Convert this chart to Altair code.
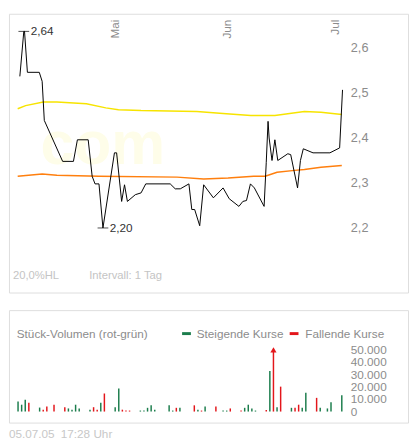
import altair as alt
import pandas as pd

FONT = "Liberation Sans"
BASE = pd.Timestamp("2005-05-01")

# ---- price line (days after 2005-05-01, price in EUR) ----
price_days = [-25.5, -24.4, -24.2, -23.4, -20.1, -19.3, -18.7, -13.6, -10.6, -9.5, -6.5, -5.4, -4.6, -3.5, -2.4,
              0.8, 1.4, 2.8, 3.6, 4.4, 6.6, 8.2, 9.5, 16.3, 17.7, 19.1, 21.5, 22.3, 23.1, 24.5, 25.6,
              28.3, 31.0, 32.7, 35.4, 36.5, 37.5, 38.6, 39.7, 42.4, 43.0, 43.5, 43.8, 44.6, 45.4, 46.2,
              49.0, 49.8, 51.7, 52.5, 53.3, 56.0, 60.7, 63.4, 64.2]
price_vals = [2.537, 2.637, 2.637, 2.546, 2.546, 2.526, 2.439, 2.348, 2.348, 2.396, 2.396, 2.315, 2.298, 2.298, 2.200,
              2.367, 2.367, 2.259, 2.296, 2.259, 2.274, 2.278, 2.298, 2.298, 2.287, 2.287, 2.298, 2.241, 2.241, 2.205, 2.296,
              2.267, 2.289, 2.265, 2.248, 2.259, 2.261, 2.298, 2.289, 2.248, 2.346, 2.437, 2.400, 2.350, 2.396, 2.350,
              2.365, 2.363, 2.289, 2.350, 2.376, 2.367, 2.367, 2.378, 2.507]

# ---- moving averages ----
ma_hi_days = [-26.1, -23.9, -19.0, -15.2, -7.0, -1.6, 1.9, 8.2, 23.7, 31.9, 38.7, 45.4, 53.6, 58.2, 64.0]
ma_hi_vals = [2.465, 2.472, 2.480, 2.480, 2.476, 2.467, 2.463, 2.461, 2.459, 2.454, 2.450, 2.450, 2.459, 2.457, 2.452]
ma_lo_days = [-26.1, -19.3, -15.2, -3.5, 18.2, 25.6, 32.4, 39.5, 42.7, 46.0, 50.9, 53.6, 58.2, 64.0]
ma_lo_vals = [2.315, 2.320, 2.317, 2.315, 2.313, 2.309, 2.311, 2.315, 2.315, 2.324, 2.328, 2.330, 2.335, 2.339]

# ---- volume ----
vol_dates = ["2005-04-05", "2005-04-06", "2005-04-07", "2005-04-08", "2005-04-11", "2005-04-12", "2005-04-13",
             "2005-04-15", "2005-04-18", "2005-04-19", "2005-04-20", "2005-04-21", "2005-04-22", "2005-04-25",
             "2005-04-26", "2005-04-27", "2005-04-28", "2005-04-29", "2005-05-02", "2005-05-03", "2005-05-04",
             "2005-05-05", "2005-05-06", "2005-05-09", "2005-05-10", "2005-05-11", "2005-05-12", "2005-05-13",
             "2005-05-17", "2005-05-18", "2005-05-19", "2005-05-20", "2005-05-24", "2005-05-25", "2005-05-26",
             "2005-05-27", "2005-05-30", "2005-06-01", "2005-06-02", "2005-06-03", "2005-06-06", "2005-06-07",
             "2005-06-08", "2005-06-09", "2005-06-10", "2005-06-13", "2005-06-14", "2005-06-15", "2005-06-16",
             "2005-06-17", "2005-06-20", "2005-06-21", "2005-06-22", "2005-06-23", "2005-06-24", "2005-06-27",
             "2005-06-28", "2005-06-30", "2005-07-01", "2005-07-04"]
vol_vals = [8000, 5500, 9500, 7000, 3200, 1500, 4000, 5500, 3500, 2500, 1500, 5500, 2500, 1500, 3500, 1500,
            7000, 14500, 3500, 18500, 1500, 800, 800, 800, 800, 3000, 5000, 1500, 5000, 800, 3000, 3000,
            5000, 1500, 800, 4000, 4000, 800, 800, 2500, 800, 3000, 5500, 2500, 800, 1200, 32500, 75000,
            3500, 20000, 3000, 3000, 5500, 3000, 15000, 11000, 3000, 2500, 7500, 13000]
vol_dir = ["up", "up", "up", "down", "up", "down", "down", "down", "down", "up", "up", "up", "up", "up",
           "down", "down", "up", "down", "up", "up", "down", "down", "down", "up", "up", "up", "up", "up",
           "up", "up", "down", "up", "down", "up", "down", "up", "down", "up", "up", "down", "down", "up",
           "up", "up", "up", "down", "up", "down", "up", "down", "up", "down", "down", "up", "up", "down",
           "up", "up", "up", "up"]

month_dates = ["2005-05-01", "2005-06-01", "2005-07-01"]
month_labels = ["Mai", "Jun", "Jul"]

price_ticks = [2.2, 2.3, 2.4, 2.5, 2.6]
vol_ticks = [0, 10000, 20000, 30000, 40000, 50000]


def to_iso(days):
    return [(BASE + pd.to_timedelta(d, unit="D")).strftime("%Y-%m-%dT%H:%M:%SZ") for d in days]


price_df = pd.DataFrame({"t": to_iso(price_days), "v": price_vals})
hi_df = pd.DataFrame({"t": to_iso(ma_hi_days), "v": ma_hi_vals})
lo_df = pd.DataFrame({"t": to_iso(ma_lo_days), "v": ma_lo_vals})
vol_df = pd.DataFrame({"t": [d + "T00:00:00Z" for d in vol_dates], "vol": vol_vals, "dir": vol_dir})
month_df = pd.DataFrame({"t": [d + "T00:00:00Z" for d in month_dates], "m": month_labels})

imax = price_vals.index(max(price_vals))
imin = price_vals.index(min(price_vals))
ext_df = pd.DataFrame({
    "t": [price_df.t[imax], price_df.t[imin]],
    "v": [price_vals[imax], price_vals[imin]],
    "lab": [f"{price_vals[imax]:.2f}".replace(".", ","), f"{price_vals[imin]:.2f}".replace(".", ",")],
})

W = 408
H_TOP = 285
H_BOT = 115

xscale = alt.Scale(domain=[alt.DateTime(year=2005, month=4, date=2, hours=11, minutes=30, utc=True),
                           alt.DateTime(year=2005, month=7, date=22, hours=9, minutes=50, utc=True)])
X = alt.X("t:T", scale=xscale, axis=None)

yscale = alt.Scale(domain=[2.0565, 2.6761], nice=False, zero=False)
yaxis = alt.Axis(orient="right", offset=-59, values=price_ticks,
                 labelExpr="replace(format(datum.value, '.1f'), '.', ',')",
                 domain=False, ticks=False, grid=False, labelPadding=0, labelFontSize=13,
                 labelColor="#8c8c8c", labelFont=FONT, title=None, labelOverlap=False)
Y = alt.Y("v:Q", scale=yscale, axis=yaxis)


def label(text, x, y, color="#8c8c8c", size=12, **kw):
    return alt.Chart(pd.DataFrame({"s": [text]})).mark_text(
        align=kw.pop("align", "left"), baseline=kw.pop("baseline", "middle"),
        font=FONT, fontSize=size, color=color, **kw
    ).encode(x=alt.value(x), y=alt.value(y), text="s:N")


watermark = label("com", 96, 154, color="#fefde9", size=62, align="center",
                  baseline="alphabetic", fontWeight="bold")

ma_hi = alt.Chart(hi_df).mark_line(color="#f7e400", strokeWidth=1.5).encode(x=X, y=Y)
ma_lo = alt.Chart(lo_df).mark_line(color="#ff7f0e", strokeWidth=1.5).encode(x=X, y=Y)
price = alt.Chart(price_df).mark_line(color="#000000", strokeWidth=1).encode(x=X, y=Y)
ext_tick = alt.Chart(ext_df).mark_tick(orient="horizontal", size=11, thickness=1, color="#000000").encode(x=X, y=Y)
ext_text = alt.Chart(ext_df).mark_text(align="left", baseline="middle", dx=7, font=FONT,
                                       fontSize=12, color="#333333").encode(x=X, y=Y, text="lab:N")
months = alt.Chart(month_df).mark_text(angle=270, align="right", baseline="middle", dy=4,
                                       font=FONT, fontSize=12, color="#8c8c8c").encode(
    x=X, y=alt.value(6), text="m:N")

top = alt.layer(
    watermark, ma_hi, ma_lo, price, ext_tick, ext_text, months,
    label("20,0%HL", 4, 268, color="#c4c4c4", size=11.5),
    label("Intervall: 1 Tag", 82, 268, color="#c4c4c4", size=11.5),
).properties(width=W, height=H_TOP)

vscale = alt.Scale(domain=[-8870, 81400], nice=False, zero=False)
vaxis = alt.Axis(orient="right", offset=-59, values=vol_ticks,
                 labelExpr="replace(format(datum.value, ','), ',', '.')",
                 domain=False, ticks=False, grid=False, labelPadding=0, labelFontSize=12,
                 labelColor="#8c8c8c", labelFont=FONT, title=None, labelOverlap=False)

base_v = alt.Chart(vol_df).transform_calculate(vc="min(datum.vol, 49000)")
vcolor = alt.Color("dir:N", scale=alt.Scale(domain=["up", "down"], range=["#1b7d4c", "#e3161b"]), legend=None)
bars = base_v.mark_rule(strokeWidth=1.5).encode(
    x=X,
    y=alt.Y("vc:Q", scale=vscale, axis=vaxis),
    y2=alt.datum(0),
    color=vcolor,
)
arrows = base_v.transform_filter("datum.vol > 50000").transform_calculate(a="49500").mark_point(
    shape="triangle-up", filled=True, size=40, opacity=1).encode(
    x=X,
    y=alt.Y("a:Q", scale=vscale, axis=vaxis),
    color=vcolor,
)

leg_green = alt.Chart(pd.DataFrame({"s": [0]})).mark_rule(color="#1b7d4c", strokeWidth=3).encode(
    x=alt.value(177), x2=alt.value(186), y=alt.value(24))
leg_red = alt.Chart(pd.DataFrame({"s": [0]})).mark_rule(color="#e3161b", strokeWidth=3).encode(
    x=alt.value(287), x2=alt.value(296), y=alt.value(24))

bottom = alt.layer(
    bars, arrows,
    label("Stück-Volumen (rot-grün)", 8, 24),
    leg_green, label("Steigende Kurse", 192, 24),
    leg_red, label("Fallende Kurse", 303, 24),
    label("05.07.05", 0, 127, color="#c8c8c8"),
    label("17:28 Uhr", 53, 127, color="#c8c8c8"),
).properties(width=W, height=H_BOT)

chart = alt.vconcat(top, bottom, spacing=16).properties(padding=0).configure_view(
    stroke="#8c8c8c", strokeWidth=2
).configure(font=FONT)

chart.save("out.html", embed_options={"renderer": "svg", "actions": False})
